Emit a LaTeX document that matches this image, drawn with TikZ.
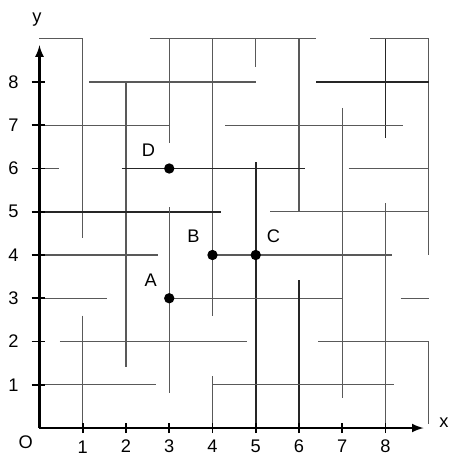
\documentclass[tikz,border=0pt]{standalone}
\usepackage{fontspec}
\setmainfont{Liberation Sans}
\begin{document}
\begin{tikzpicture}[>=latex,
    wall/.style={black!65, line width=0.7pt},
    thickwall/.style={black!85, line width=1.3pt},
    spot/.style={circle, fill=black, inner sep=0pt, minimum size=2.4mm},
    lbl/.style={font=\fontsize{12}{14}\selectfont}]
    \useasboundingbox (-0.913,-0.647) rectangle (9.468,9.896);

    % ==== WALLS, ROW BY ROW ====
    \draw[wall] (0,9) -- (1,9) -- (1,4.4);
    \draw[wall] (2.55,9) -- (6.4,9);
    \draw[wall] (7.65,9) -- (9,9) -- (9,4.0);
    \draw[wall] (3,9) -- (3,6.6);
    \draw[wall] (4,9) -- (4,2.6);
    \draw[wall] (5,9) -- (5,8.35);
    \draw[wall] (6,9) -- (6,5.0);
    \draw[thickwall] (8,9) -- (8,6.7);

    \draw[wall] (1.15,8) -- (5,8);
    \draw[thickwall] (6.4,8) -- (9,8);
    \draw[wall] (2,8) -- (2,1.4);

    \draw[wall] (0,7) -- (3,7);
    \draw[wall] (4.3,7) -- (8.4,7);
    \draw[wall] (7,7.4) -- (7,0.7);

    \draw[wall] (0,6) -- (0.45,6);
    \draw[thickwall] (1.9,6) -- (6.15,6);
    \draw[wall] (7.15,6) -- (9,6);
    \draw[thickwall] (5,6.15) -- (5,0);

    \draw[thickwall] (0,5) -- (4.2,5);
    \draw[wall] (5.33,5) -- (9,5);
    \draw[wall] (3,5.1) -- (3,0.8);
    \draw[wall] (8,5.2) -- (8,0);

    \draw[wall] (0,4) -- (2.75,4);
    \draw[wall] (4,4) -- (8.15,4);

    \draw[wall] (0,3) -- (1.55,3);
    \draw[wall] (3,3) -- (7,3);
    \draw[wall] (8.35,3) -- (9,3);
    \draw[thickwall] (6,3.42) -- (6,0);
    \draw[wall] (1,2.6) -- (1,0);

    \draw[wall] (0.47,2) -- (4.8,2);
    \draw[wall] (6.45,2) -- (9,2) -- (9,0.1);

    \draw[wall] (0,1) -- (2.7,1);
    \draw[wall] (4,1) -- (8.2,1);
    \draw[wall] (4,1.2) -- (4,0);

    % ==== AXISES ====
    \coordinate (O) at (0,0);
    \coordinate (xend) at (8.88,0);
    \coordinate (yend) at (0,8.85);
    \draw[->, line width=1.6pt] (O) -- (xend);
    \draw[->, line width=1.6pt] (O) -- (yend);
    \node[lbl] (xlab) at (9.35,0.12) {x};
    \node[lbl] (ylab) at (-0.06,9.45) {y};
    \node[lbl] (olab) at (-0.32,-0.34) {O};

    % ==== TICKS ====
    \draw[line width=1.2pt]
        (1,-0.12) -- (1,0.12) (2,-0.12) -- (2,0.12)
        (3,-0.12) -- (3,0.12) (4,-0.12) -- (4,0.12)
        (5,-0.12) -- (5,0.12) (6,-0.12) -- (6,0.12)
        (7,-0.12) -- (7,0.12) (8,-0.12) -- (8,0.12);
    \draw[line width=1.2pt]
        (-0.18,1) -- (0.13,1) (-0.18,2) -- (0.13,2)
        (-0.18,3) -- (0.13,3) (-0.18,4) -- (0.13,4)
        (-0.18,5) -- (0.13,5) (-0.18,6) -- (0.13,6)
        (-0.18,7) -- (0.13,7) (-0.18,8) -- (0.13,8);
    \node[lbl] (x1) at (1,-0.44) {1};
    \node[lbl] (x2) at (2,-0.42) {2};
    \node[lbl] (x3) at (3,-0.42) {3};
    \node[lbl] (x4) at (4,-0.42) {4};
    \node[lbl] (x5) at (5,-0.42) {5};
    \node[lbl] (x6) at (6,-0.42) {6};
    \node[lbl] (x7) at (7,-0.42) {7};
    \node[lbl] (x8) at (8,-0.42) {8};
    \node[lbl] (y1) at (-0.6,1) {1};
    \node[lbl] (y2) at (-0.6,2) {2};
    \node[lbl] (y3) at (-0.6,3) {3};
    \node[lbl] (y4) at (-0.6,4) {4};
    \node[lbl] (y5) at (-0.6,5) {5};
    \node[lbl] (y6) at (-0.6,6) {6};
    \node[lbl] (y7) at (-0.6,7) {7};
    \node[lbl] (y8) at (-0.6,8) {8};

    % ==== POINTS ====
    \node[spot] (A) at (3,3) {};
    \node[spot] (B) at (4,4) {};
    \node[spot] (C) at (5,4) {};
    \node[spot] (D) at (3,6) {};
    \node[lbl] (Alab) at (2.57,3.42) {A};
    \node[lbl] (Blab) at (3.56,4.43) {B};
    \node[lbl] (Clab) at (5.41,4.43) {C};
    \node[lbl] (Dlab) at (2.52,6.42) {D};
\end{tikzpicture}
\end{document}
